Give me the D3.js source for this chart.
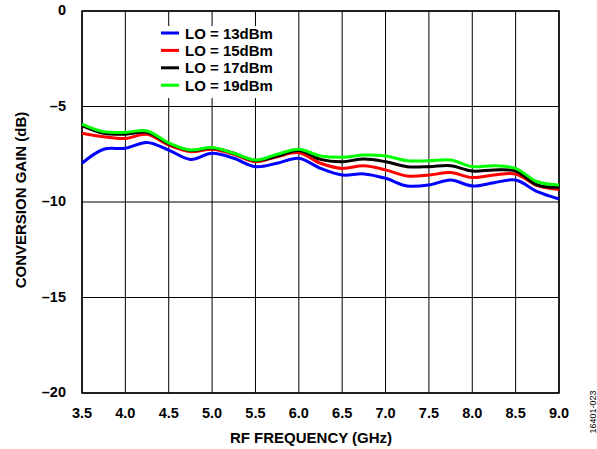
<!DOCTYPE html>
<html>
<head>
<meta charset="utf-8">
<script src="https://cdn.jsdelivr.net/npm/d3@7"></script>
<style>
  body { margin: 0; background: #fff; }
  text { font-family: "Liberation Sans", Arial, sans-serif; }
</style>
</head>
<body>
<script>
// chart data
var freqs = [3.5, 3.75, 4.0, 4.25, 4.5, 4.75, 5.0, 5.25, 5.5, 5.75, 6.0, 6.25, 6.5, 6.75, 7.0, 7.25, 7.5, 7.75, 8.0, 8.25, 8.5, 8.75, 9.0];
var lo13 = [-7.97, -7.24, -7.19, -6.88, -7.28, -7.77, -7.45, -7.71, -8.15, -7.97, -7.71, -8.24, -8.59, -8.53, -8.76, -9.16, -9.11, -8.85, -9.16, -8.99, -8.85, -9.46, -9.84];
var lo15 = [-6.40, -6.58, -6.67, -6.46, -7.02, -7.36, -7.24, -7.50, -7.89, -7.63, -7.42, -7.97, -8.24, -8.10, -8.32, -8.64, -8.59, -8.46, -8.72, -8.59, -8.53, -9.14, -9.34];
var lo17 = [-6.00, -6.40, -6.45, -6.35, -6.95, -7.30, -7.17, -7.45, -7.83, -7.60, -7.30, -7.77, -7.89, -7.75, -7.89, -8.15, -8.15, -8.10, -8.38, -8.32, -8.38, -9.11, -9.23];
var lo19 = [-5.92, -6.32, -6.35, -6.28, -6.90, -7.28, -7.15, -7.45, -7.80, -7.50, -7.24, -7.59, -7.66, -7.54, -7.59, -7.84, -7.84, -7.80, -8.15, -8.10, -8.24, -8.94, -9.11];
var seriesNames = ["LO = 13dBm", "LO = 15dBm", "LO = 17dBm", "LO = 19dBm"];
var seriesColors = ["#0000ff", "#ff0000", "#000000", "#00ff00"];
var xTicks = [3.5, 4.0, 4.5, 5.0, 5.5, 6.0, 6.5, 7.0, 7.5, 8.0, 8.5, 9.0];
var yTicks = [0, -5, -10, -15, -20];

var w = 597, h = 449;
var plotLeft = 82, plotRight = 559, plotTop = 11, plotBottom = 393;

var svg = d3.select("body").append("svg")
    .attr("width", w)
    .attr("height", h);

var x = d3.scaleLinear().domain([3.5, 9.0]).range([plotLeft, plotRight]);
var y = d3.scaleLinear().domain([-20, 0]).range([plotBottom, plotTop]);

// grid
svg.append("g").selectAll("line")
    .data(xTicks)
    .enter().append("line")
    .attr("x1", function(d) { return x(d); })
    .attr("x2", function(d) { return x(d); })
    .attr("y1", plotTop).attr("y2", plotBottom)
    .attr("stroke", "#000").attr("stroke-width", 1);

svg.append("g").selectAll("line")
    .data(yTicks)
    .enter().append("line")
    .attr("x1", plotLeft).attr("x2", plotRight)
    .attr("y1", function(d) { return y(d); })
    .attr("y2", function(d) { return y(d); })
    .attr("stroke", "#000").attr("stroke-width", 1);

// legend background covers the grid
svg.append("rect")
    .attr("x", 155).attr("y", 26)
    .attr("width", 140).attr("height", 72)
    .attr("fill", "#fff");

// frame
svg.append("rect")
    .attr("x", plotLeft).attr("y", plotTop)
    .attr("width", plotRight - plotLeft).attr("height", plotBottom - plotTop)
    .attr("fill", "none").attr("stroke", "#000").attr("stroke-width", 1.5);

// tick labels
svg.append("g").selectAll("text")
    .data(xTicks)
    .enter().append("text")
    .attr("x", function(d) { return x(d); })
    .attr("y", 418)
    .attr("text-anchor", "middle")
    .attr("font-size", "14.5px").attr("font-weight", "bold")
    .text(function(d) { return d.toFixed(1); });

svg.append("g").selectAll("text")
    .data(yTicks)
    .enter().append("text")
    .attr("x", 66)
    .attr("y", function(d) { return y(d) + 4; })
    .attr("text-anchor", "end")
    .attr("font-size", "14.5px").attr("font-weight", "bold")
    .text(function(d) { return d < 0 ? "\u2013" + Math.abs(d) : d; });

// axis titles
svg.append("text")
    .attr("x", 311).attr("y", 443)
    .attr("text-anchor", "middle")
    .attr("font-size", "15px").attr("font-weight", "bold")
    .text("RF FREQUENCY (GHz)");

svg.append("text")
    .attr("transform", "translate(26,200) rotate(-90)")
    .attr("text-anchor", "middle")
    .attr("font-size", "15px").attr("font-weight", "bold")
    .text("CONVERSION GAIN (dB)");

svg.append("text")
    .attr("transform", "translate(596,412) rotate(-90)")
    .attr("text-anchor", "middle")
    .attr("font-size", "9px")
    .text("16401-023");

// lines
var line = d3.line()
    .x(function(d, i) { return x(freqs[i]); })
    .y(function(d) { return y(d); })
    .curve(d3.curveCatmullRom);

var allSeries = [lo13, lo15, lo17, lo19];
svg.append("g").selectAll("path")
    .data(allSeries)
    .enter().append("path")
    .attr("d", line)
    .attr("fill", "none")
    .attr("stroke", function(d, i) { return seriesColors[i]; })
    .attr("stroke-width", 3)
    .attr("stroke-linejoin", "round");

// legend
var legend = svg.append("g").selectAll("g")
    .data(seriesNames)
    .enter().append("g")
    .attr("transform", function(d, i) { return "translate(161," + (33 + i * 17.4) + ")"; });

legend.append("line")
    .attr("x1", 0).attr("x2", 18)
    .attr("y1", 0).attr("y2", 0)
    .attr("stroke", function(d, i) { return seriesColors[i]; })
    .attr("stroke-width", 3);

legend.append("text")
    .attr("x", 24).attr("y", 5.5)
    .attr("font-size", "15px").attr("font-weight", "bold")
    .text(function(d) { return d; });
</script>
</body>
</html>
